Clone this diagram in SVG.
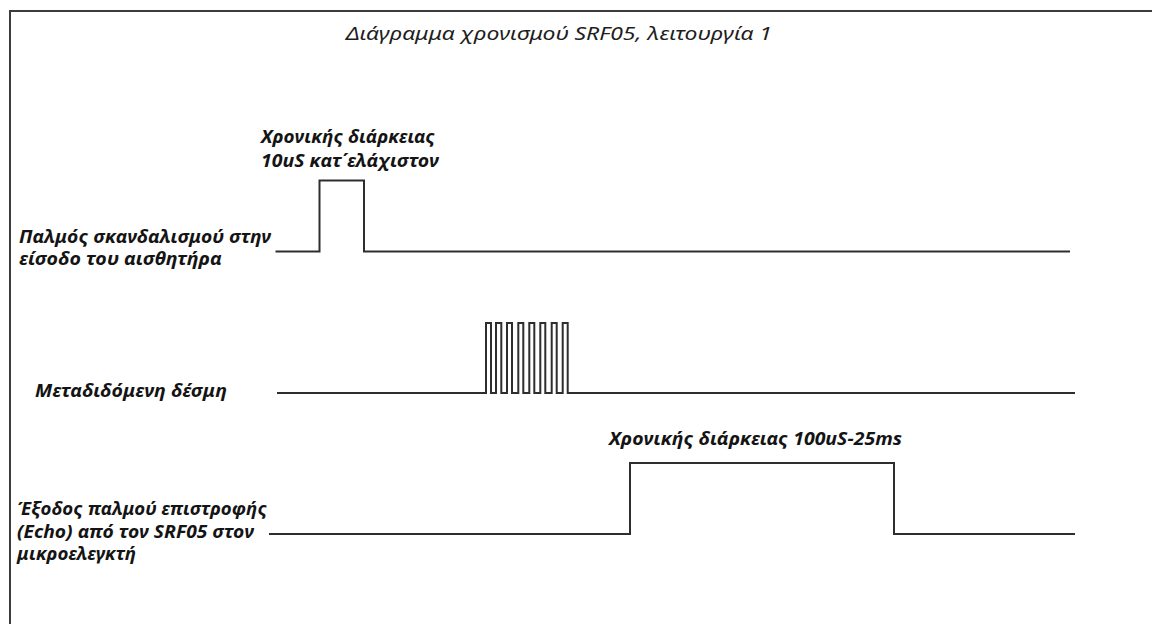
<svg xmlns="http://www.w3.org/2000/svg" width="1152" height="624" viewBox="0 0 1152 624">
<style>
.lbl{font-family:"Noto Sans","Open Sans","Liberation Sans",sans-serif;font-style:italic;font-weight:bold;font-size:17.5px;fill:#141414}
.ttl{font-family:"Noto Sans","Open Sans","Liberation Sans",sans-serif;font-style:italic;font-weight:normal;font-size:18.5px;fill:#1e1e1e}
.wave{fill:none;stroke:#2e2e2e;stroke-width:2;stroke-linejoin:miter}
.frame{fill:none;stroke:#3c3c3c;stroke-width:2}
</style>
<rect width="1152" height="624" fill="#ffffff"/>
<g id="frame">
<path class="frame" d="M10 624 V11 H1152"/>
</g>
<g id="title">
<text class="ttl" x="346" y="40" textLength="426" lengthAdjust="spacingAndGlyphs">Διάγραμμα χρονισμού SRF05, λειτουργία 1</text>
</g>
<g id="trigger">
<text class="lbl" x="19" y="243" textLength="252" lengthAdjust="spacingAndGlyphs">Παλμός σκανδαλισμού στην</text>
<text class="lbl" x="19" y="265" textLength="203" lengthAdjust="spacingAndGlyphs">είσοδο του αισθητήρα</text>
<text class="lbl" x="261" y="143" textLength="174" lengthAdjust="spacingAndGlyphs">Χρονικής διάρκειας</text>
<text class="lbl" x="261" y="167" textLength="178" lengthAdjust="spacingAndGlyphs">10uS κατ΄ελάχιστον</text>
</g>
<g id="burst">
<text class="lbl" x="35" y="397" textLength="192" lengthAdjust="spacingAndGlyphs">Μεταδιδόμενη δέσμη</text>
</g>
<g id="echo">
<text class="lbl" x="17" y="515" textLength="250" lengthAdjust="spacingAndGlyphs">Έξοδος παλμού επιστροφής</text>
<text class="lbl" x="17" y="537.5" textLength="237" lengthAdjust="spacingAndGlyphs">(Echo) από τον SRF05 στον</text>
<text class="lbl" x="17" y="560" textLength="119" lengthAdjust="spacingAndGlyphs">μικροελεγκτή</text>
<text class="lbl" x="609" y="445" textLength="293" lengthAdjust="spacingAndGlyphs">Χρονικής διάρκειας 100uS-25ms</text>
</g>
<g id="connectors">
<path id="trigger-wave" class="wave" d="M275.5 251.5 H319.5 V180.5 H364 V251.5 H1070"/>
<path id="burst-wave" class="wave" d="M277 393 H486 V323 H491 V393 H496 V323 H501.3 V393 H507 V323 H512 V393 H518.3 V323 H523.3 V393 H529.3 V323 H534.3 V393 H540.3 V323 H545.3 V393 H551.7 V323 H556.7 V393 H562.7 V323 H567.7 V393 H1075"/>
<path id="echo-wave" class="wave" d="M269 534 H630 V463 H894 V534 H1075"/>
</g>
</svg>
